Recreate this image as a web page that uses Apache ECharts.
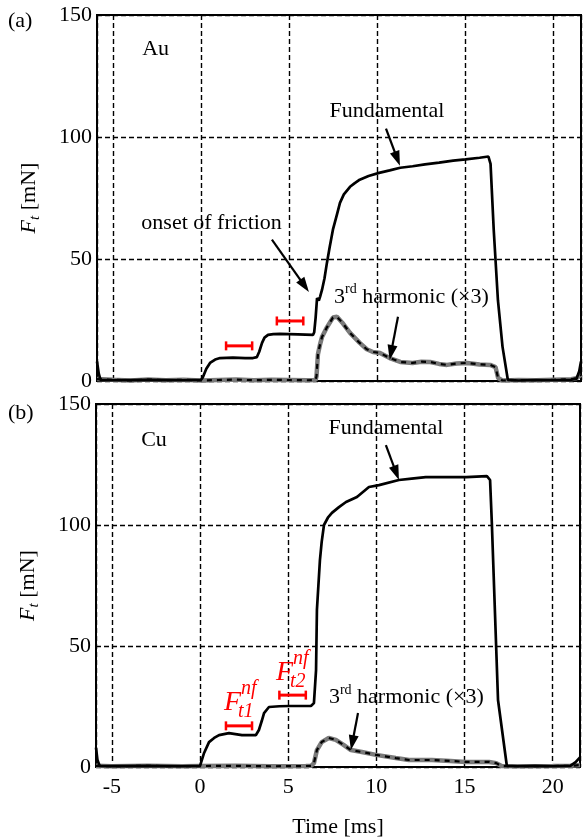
<!DOCTYPE html>
<html><head><meta charset="utf-8">
<script src="https://cdn.jsdelivr.net/npm/echarts@6/dist/echarts.min.js"></script>
<style>html,body{margin:0;padding:0;background:#fff}#c{width:583px;height:840px}</style>
</head><body><div id="c"></div>
<script>
const FONT = '"Liberation Serif", "DejaVu Serif", serif';

// ---------- Panel (a) Au ----------
const aFundT = [-5.9,-5.8,-5.7,-5,-3,-1,0,0.11,0.3,0.51,0.8,1.08,1.81,2.5,2.95,3.17,3.3,3.46,3.6,3.8,4.1,4.48,5.5,6.35,6.42,6.5,6.58,6.68,6.75,6.86,7.0,7.14,7.3,7.48,7.7,7.88,8.1,8.45,8.7,9.0,9.5,10.1,10.7,11.3,12.0,12.7,13.5,14.3,15.0,15.8,16.3,16.42,16.6,16.84,17.1,17.4,18,19,20,21,21.3,21.45,21.55];
const aFundV = [8,3,0.5,0.3,0.5,0.3,0.5,1.6,5,7.4,8.8,9.4,9.6,9.4,9.4,9.8,12,15.6,17.8,18.9,19.2,19.3,19.1,18.9,20,26,34,33,34.5,37.3,42,48.4,55,62,68,73,76.5,79.6,81,82.5,84,85.3,86.3,87.4,88,88.8,89.5,90.3,90.8,91.5,92,89,62,33,14,0.5,0.2,0.4,0.3,0.5,1,4,8];
const aHarmT = [-5.9,-5,-4,-3,-2,-1,0,1,2,3,4,5,6,6.5,6.55,6.63,6.75,6.86,7.14,7.48,7.71,8.0,8.45,9.0,9.4,9.75,10.15,10.7,11.3,12.0,12.5,13.0,13.5,13.95,14.5,15.1,15.8,16.4,16.7,16.85,17.1,18,19,20,21,21.3,21.55];
const aHarmV = [0.8,0.5,0.2,0.6,0.3,0.5,0.2,0.4,0.6,0.3,0.5,0.4,0.3,0.4,2,11,15,18,22,26,26.3,24,19.7,15.6,13,11.9,11.5,9.4,7.8,7.4,7.9,7.8,7.0,6.6,7.2,7.4,6.8,6.6,5.7,1.2,0.2,0.4,0.3,0.5,0.7,1.2,2.5];
const aBars = [[1.42,2.9,14.4],[4.3,5.8,24.6]];            // [x start, x end, level]
const aArrows = [[10.49,103.4,11.28,88.2],[4.02,57.9,6.12,36.5],[11.17,26.3,10.7,8.6]]; // [x tail, y tail, x tip, y tip]
const aNotes = [['Fundamental',10.54,110.4,'center'],['onset of friction',0.6,64.8,'center'],['{n|3}{s|rd}{n| harmonic (×3)}',7.54,34.5,'left'],['Au',-3.34,135.8,'left']];

// ---------- Panel (b) Cu ----------
const bFundT = [-5.9,-5.82,-5.7,-5,-3,-1,0,0.06,0.23,0.51,0.8,1.08,1.64,2.38,3.17,3.34,3.5,3.63,3.91,4.5,5.05,6.29,6.46,6.58,6.63,6.8,6.9,7.03,7.25,7.48,7.88,8.28,8.9,9.58,10.15,11.28,12.0,12.8,14.1,15.1,16.27,16.45,16.55,16.9,17.4,18,19,20,21,21.3,21.55];
const bFundV = [8,3,0.5,0.4,0.5,0.3,0.5,0.8,5.8,10.3,12,13.2,14,13.2,13.2,15.3,19,22.3,24.8,25.1,25.2,25.2,26.4,40,65,85.5,93,100,103,105,107.4,109.5,111.6,115.7,116.5,118.6,119.2,119.8,119.8,119.8,120.2,118.6,100.8,27.7,0.5,0.3,0.5,0.3,0.5,2,4];
const bHarmT = [-5.9,-5,-3,-1,0,2,4,6,6.3,6.46,6.63,6.9,7.3,7.7,8.16,8.56,9.18,9.98,11.1,11.85,13.15,14.2,15.1,16.4,16.8,17.1,18,20,21,21.55];
const bHarmV = [0.5,0.3,0.5,0.3,0.4,0.5,0.3,0.4,0.5,1.6,7,10.3,12,11.2,9,7,6.2,5,3.7,2.9,2.9,2.5,2.1,2.1,1.6,0.4,0.3,0.4,0.5,0.8];
const bBars = [[1.47,2.95,17],[4.5,6.0,29.7]];
const bArrows = [[10.54,133,11.28,118.6],[8.96,22.3,8.56,7]];
const bNotes = [['Fundamental',10.54,140,'center'],['{n|3}{s|rd}{n| harmonic (×3)}',7.31,28.9,'left'],['Cu',-3.34,135,'left']];
const bRedLabels = [['1',1.36,26.4],['2',4.31,39]]; // F_t?^nf : [index, x of F left, y of F centre]

const xTickLabels = ['-5','0','5','10','15','20'];
const yTicks = [0,50,100,150];

const zip = (t,v) => t.map((x,i)=>[x,v[i]]);

function fundSeries(g,t,v){
  return {type:'line', xAxisIndex:g, yAxisIndex:g, data:zip(t,v), showSymbol:false, symbol:'none', z:5,
    lineStyle:{color:'#000', width:2.7}, animation:false};
}
function harmSeries(g,t,v){
  return [
    {type:'line', xAxisIndex:g, yAxisIndex:g, data:zip(t,v), symbol:'none', z:3, lineStyle:{color:'#7a7a7a', width:4.5}, animation:false},
    {type:'line', xAxisIndex:g, yAxisIndex:g, data:zip(t,v), symbol:'none', z:4, lineStyle:{color:'#000', width:2.2, type:[5,5]}, animation:false}
  ];
}
function barSeries(g,bars){
  return {type:'custom', xAxisIndex:g, yAxisIndex:g, data:bars, z:6, animation:false, clip:false,
    renderItem(params, api){
      const p1 = api.coord([api.value(0), api.value(2)]);
      const p2 = api.coord([api.value(1), api.value(2)]);
      const st = {stroke:'#ff0000', lineWidth:3};
      return {type:'group', children:[
        {type:'line', shape:{x1:p1[0],y1:p1[1],x2:p2[0],y2:p2[1]}, style:st},
        {type:'line', shape:{x1:p1[0],y1:p1[1]-4.5,x2:p1[0],y2:p1[1]+4.5}, style:{stroke:'#ff0000', lineWidth:2.5}},
        {type:'line', shape:{x1:p2[0],y1:p2[1]-4.5,x2:p2[0],y2:p2[1]+4.5}, style:{stroke:'#ff0000', lineWidth:2.5}}
      ]};
    }};
}
function arrowSeries(g,arrows){
  return {type:'custom', xAxisIndex:g, yAxisIndex:g, data:arrows, z:7, animation:false, clip:false,
    renderItem(params, api){
      const a = api.coord([api.value(0), api.value(1)]);
      const b = api.coord([api.value(2), api.value(3)]);
      const dx = b[0]-a[0], dy = b[1]-a[1], L = Math.hypot(dx,dy);
      const ux = dx/L, uy = dy/L, hl = 15, hw = 5;
      const bx = b[0]-ux*hl, by = b[1]-uy*hl;
      return {type:'group', children:[
        {type:'line', shape:{x1:a[0],y1:a[1],x2:bx+ux*2,y2:by+uy*2}, style:{stroke:'#000', lineWidth:2.2}},
        {type:'polygon', shape:{points:[[b[0],b[1]],[bx-uy*hw,by+ux*hw],[bx+uy*hw,by-ux*hw]]}, style:{fill:'#000'}}
      ]};
    }};
}
function noteSeries(g,notes){
  return {type:'custom', xAxisIndex:g, yAxisIndex:g, data:notes.map(n=>[n[1],n[2]]), z:8, animation:false, clip:false,
    renderItem(params, api){
      const n = notes[params.dataIndex];
      const p = api.coord([api.value(0), api.value(1)]);
      return {type:'text', x:p[0], y:p[1], style:{text:n[0], fill:'#000', fontFamily:FONT, fontSize:22,
        align:n[3], verticalAlign:'middle',
        rich:{n:{fontFamily:FONT, fontSize:22, lineHeight:28, fill:'#000'}, s:{fontFamily:FONT, fontSize:14, lineHeight:16, verticalAlign:'top', fill:'#000'}}}};
    }};
}
function redLabelSeries(g,labels){
  return {type:'custom', xAxisIndex:g, yAxisIndex:g, data:labels.map(l=>[l[1],l[2]]), z:8, animation:false, clip:false,
    renderItem(params, api){
      const l = labels[params.dataIndex];
      const p = api.coord([api.value(0), api.value(1)]);
      const base = {fill:'#ff0000', fontFamily:FONT, fontStyle:'italic'};
      return {type:'group', children:[
        {type:'text', x:p[0], y:p[1], style:Object.assign({text:'F', fontSize:28, align:'left', verticalAlign:'middle'}, base)},
        {type:'text', x:p[0]+17, y:p[1]-14, style:Object.assign({text:'nf', fontSize:20, align:'left', verticalAlign:'middle'}, base)},
        {type:'text', x:p[0]+14, y:p[1]+9, style:Object.assign({text:'t'+l[0], fontSize:20, align:'left', verticalAlign:'middle'}, base)}
      ]};
    }};
}

const gridLine = {show:true, lineStyle:{color:'#000', type:[5,3], width:1.4}};
function xAx(g, showLabels){
  return {gridIndex:g, type:'value', min:-5.9, max:21.55, minInterval:5, maxInterval:5,
    axisLine:{show:false}, axisTick:{show:false}, splitLine:gridLine,
    name: showLabels ? 'Time [ms]' : '', nameLocation:'middle', nameGap:49,
    nameTextStyle:{fontFamily:FONT, fontSize:22, color:'#000'},
    axisLabel:{show:showLabels, showMinLabel:false, showMaxLabel:false, margin:9, fontFamily:FONT, fontSize:22, color:'#000',
      formatter:v => xTickLabels.includes(String(v)) ? String(v) : ''}};
}
function yAx(g){
  return {gridIndex:g, type:'value', min:yTicks[0], max:yTicks[yTicks.length-1], interval:50,
    axisLine:{show:false}, axisTick:{show:false}, splitLine:gridLine,
    name:'{i|F}{sub|t}{n| [mN]}', nameLocation:'middle', nameGap:54,
    nameTextStyle:{fontFamily:FONT, fontSize:22, color:'#000',
      rich:{i:{fontFamily:FONT, fontSize:22, fontStyle:'italic', lineHeight:28, color:'#000'},
            sub:{fontFamily:FONT, fontSize:15, fontStyle:'italic', lineHeight:14, verticalAlign:'bottom', color:'#000'},
            n:{fontFamily:FONT, fontSize:22, lineHeight:28, color:'#000'}}},
    axisLabel:{margin:5, fontFamily:FONT, fontSize:22, color:'#000'}};
}

const chart = echarts.init(document.getElementById('c'), null, {renderer:'canvas'});
chart.setOption({
  animation:false,
  backgroundColor:'#fff',
  grid:[
    {left:97, right:2, top:15, height:366, show:true, borderColor:'#000', borderWidth:2, backgroundColor:'transparent'},
    {left:96, right:3, top:404, height:363, show:true, borderColor:'#000', borderWidth:2, backgroundColor:'transparent'}
  ],
  xAxis:[xAx(0,false), xAx(1,true)],
  yAxis:[yAx(0), yAx(1)],
  graphic:[
    {type:'text', left:8, top:10, style:{text:'(a)', fontFamily:FONT, fontSize:22, fill:'#000'}},
    {type:'text', left:8, top:402, style:{text:'(b)', fontFamily:FONT, fontSize:22, fill:'#000'}}
  ],
  series:[
    ...harmSeries(0,aHarmT,aHarmV), fundSeries(0,aFundT,aFundV), barSeries(0,aBars), arrowSeries(0,aArrows), noteSeries(0,aNotes),
    ...harmSeries(1,bHarmT,bHarmV), fundSeries(1,bFundT,bFundV), barSeries(1,bBars), arrowSeries(1,bArrows), noteSeries(1,bNotes), redLabelSeries(1,bRedLabels)
  ]
});
</script></body></html>
